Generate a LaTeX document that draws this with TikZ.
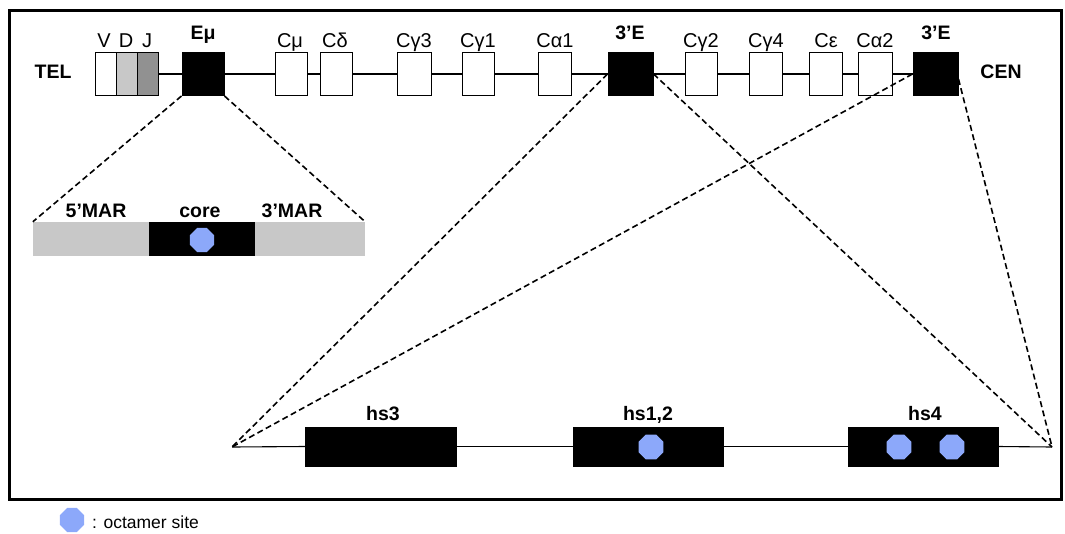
\documentclass[tikz,border=0pt]{standalone}
\usepackage{fontspec}
\setmainfont{Liberation Sans}
\usetikzlibrary{shapes.geometric}

\definecolor{octablue}{RGB}{140,168,250}
\definecolor{dseg}{RGB}{200,200,200}
\definecolor{jseg}{RGB}{145,145,145}
\definecolor{margray}{RGB}{200,200,200}

\tikzset{
  seg/.style={draw=black, line width=1pt, fill=white, minimum height=43pt, inner sep=0pt},
  enh/.style={seg, fill=black},
  hsbox/.style={draw=black, fill=black, minimum height=39pt, inner sep=0pt},
  octa/.style={regular polygon, regular polygon sides=8, fill=octablue, draw=none,
               minimum size=27pt, inner sep=0pt},
  lab/.style={anchor=base, inner sep=0pt, font=\fontsize{20}{24}\selectfont},
  blab/.style={anchor=base, inner sep=0pt, font=\fontsize{19.5}{23}\selectfont\bfseries},
  locus/.style={line width=1.1pt},
  zoomline/.style={dash pattern=on 6pt off 3.5pt, line width=1.6pt}
}

\begin{document}
\begin{tikzpicture}[x=1pt, y=-1pt]
\useasboundingbox (0,0) rectangle (1065,533);

% outer frame
\draw[line width=3pt] (9,10) rectangle (1061,499);

% ---- heavy chain locus ----
\node[seg, minimum width=21pt] (V) at (105.5,74) {};
\node[seg, minimum width=21pt, fill=dseg] (D) at (126.5,74) {};
\node[seg, minimum width=21pt, fill=jseg] (J) at (147.5,74) {};
\node[enh, minimum width=42pt] (Emu) at (203,74) {};
\node[seg, minimum width=32pt] (Cmu) at (291,74) {};
\node[seg, minimum width=32pt] (Cdelta) at (336,74) {};
\node[seg, minimum width=34pt] (Cg3) at (414,74) {};
\node[seg, minimum width=32pt] (Cg1) at (478,74) {};
\node[seg, minimum width=33pt] (Ca1) at (554.5,74) {};
\node[enh, minimum width=45pt] (E3a) at (630.5,74) {};
\node[seg, minimum width=32pt] (Cg2) at (701,74) {};
\node[seg, minimum width=33pt] (Cg4) at (765.5,74) {};
\node[seg, minimum width=33pt] (Ceps) at (825.5,74) {};
\node[seg, minimum width=34pt] (Ca2) at (875,74) {};
\node[enh, minimum width=45pt] (E3b) at (935.5,74) {};

\foreach \a/\b in {J/Emu, Emu/Cmu, Cmu/Cdelta, Cdelta/Cg3, Cg3/Cg1, Cg1/Ca1,
                   Ca1/E3a, E3a/Cg2, Cg2/Cg4, Cg4/Ceps, Ceps/Ca2, Ca2/E3b}
  \draw[locus] (\a.east) -- (\b.west);

% segment labels
\node[lab] (tV) at (104,47) {V};
\node[lab] (tD) at (126,47) {D};
\node[lab] (tJ) at (147,47) {J};
\node[blab] (tEmu) at (203,39) {Eμ};
\node[lab] (tCmu) at (290,47) {Cμ};
\node[lab] (tCdelta) at (335,47) {Cδ};
\node[lab] (tCg3) at (414,47) {Cγ3};
\node[lab] (tCg1) at (478,47) {Cγ1};
\node[lab] (tCa1) at (555,47) {Cα1};
\node[blab] (tE3a) at (630,39) {3’E};
\node[lab] (tCg2) at (701,47) {Cγ2};
\node[lab] (tCg4) at (766,47) {Cγ4};
\node[lab] (tCeps) at (826,47) {Cε};
\node[lab] (tCa2) at (875,47) {Cα2};
\node[blab] (tE3b) at (936,39) {3’E};
\node[blab] (tel) at (53,78) {TEL};
\node[blab] (cen) at (1001,78) {CEN};

% ---- Emu enhancer detail ----
\node[draw=none, fill=margray, minimum width=332pt, minimum height=34pt, inner sep=0pt] (mar) at (199,239) {};
\node[draw=none, fill=black, minimum width=106pt, minimum height=34pt, inner sep=0pt] (core) at (202,239) {};
\node[octa, minimum size=26pt] (coreoct) at (202,240) {};
\node[blab] (t5mar) at (96,217) {5’MAR};
\node[blab] (tcore) at (200,217) {core};
\node[blab] (t3mar) at (292,217) {3’MAR};

\draw[zoomline] (Emu.south west) -- (mar.north west);
\draw[zoomline] (Emu.south east) -- (mar.north east);

% ---- 3' regulatory region detail ----
\coordinate (hsL) at (232,447);
\coordinate (hsR) at (1052,447);
\node[hsbox, minimum width=151pt] (hs3) at (380.5,446.5) {};
\node[hsbox, minimum width=150pt] (hs12) at (648,446.5) {};
\node[hsbox, minimum width=150pt] (hs4) at (923,446.5) {};
\draw[locus] (hsL) -- (hs3.west);
\draw[locus] (hs3.east) -- (hs12.west);
\draw[locus] (hs12.east) -- (hs4.west);
\draw[locus] (hs4.east) -- (hsR);
\node[octa] (o12) at (651,447) {};
\node[octa] (o4a) at (899,447) {};
\node[octa] (o4b) at (952,447) {};
\node[blab] (ths3) at (383,420) {hs3};
\node[blab] (ths12) at (648,420) {hs1,2};
\node[blab] (ths4) at (925,420) {hs4};

\draw[zoomline] (E3a.west) -- (hsL);
\draw[zoomline] (E3a.east) -- (hsR);
\draw[zoomline] (E3b.west) -- (hsL);
\draw[zoomline] ([yshift=-5pt]E3b.east) -- (hsR);

% ---- legend ----
\node[octa, minimum size=26pt] (legoct) at (72,520) {};
\node[anchor=base west, inner sep=0pt, font=\fontsize{17.5}{21}\selectfont] (legtext) at (92,528) {: octamer site};
\end{tikzpicture}
\end{document}
